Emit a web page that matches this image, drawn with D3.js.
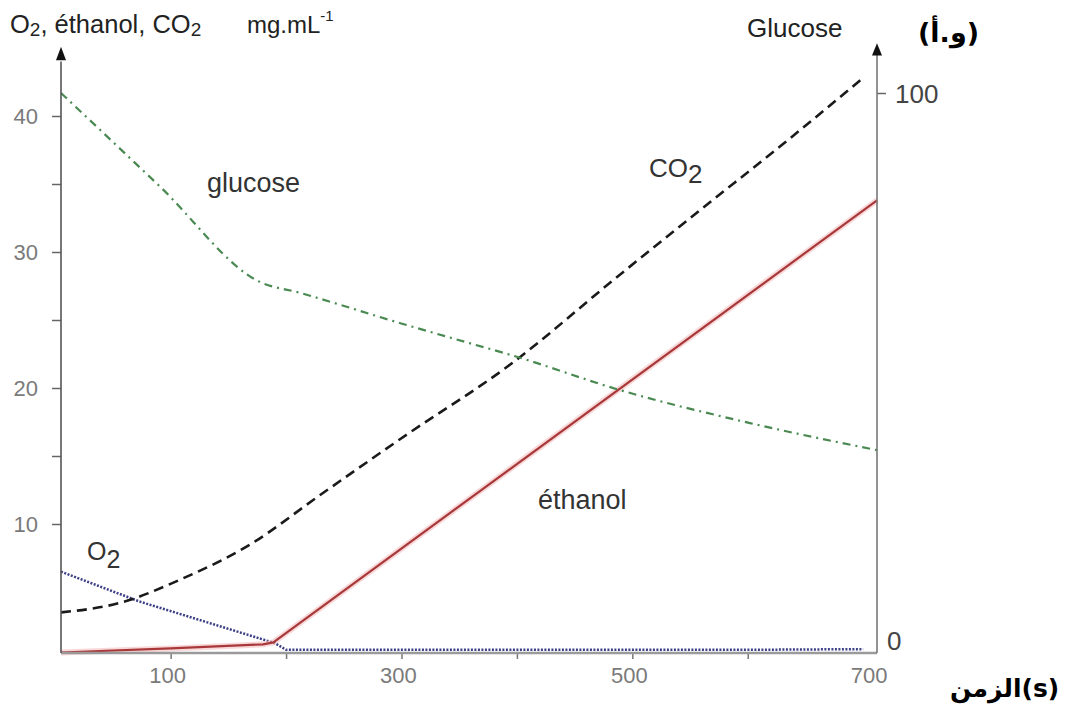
<!DOCTYPE html>
<html>
<head>
<meta charset="utf-8">
<script src="https://cdn.jsdelivr.net/npm/d3@7"></script>
<style>
  html, body { margin: 0; padding: 0; background: #fff; }
  svg { display: block; }
  text { font-family: "Liberation Sans", Arial, sans-serif; }
</style>
</head>
<body>
<svg id="chart" width="1070" height="707"></svg>
<script>
// ---- data (time in s) ----
const glucoseT   = [5, 91, 177, 212, 299, 362, 397, 489, 602, 712];
const glucoseV   = [100, 83, 65.8, 63.8, 58.3, 54.5, 52.4, 46.2, 40.2, 35.3];  // arbitrary units (right axis)
const ethanolT   = [5, 100, 180, 189, 712];
const ethanolV   = [0.55, 0.85, 1.15, 1.3, 33.8];                              // mg/mL (left axis)
const co2T       = [5, 56, 108, 169, 229, 299, 397, 483, 559, 630, 700];
const co2V       = [3.5, 4.2, 5.9, 8.5, 12.1, 16.25, 21.9, 27.9, 33.1, 37.9, 42.8];
const o2T        = [5, 73, 190, 200, 300, 400, 500, 600, 700];
const o2V        = [6.5, 4.3, 1.25, 0.75, 0.75, 0.75, 0.75, 0.75, 0.8];
const xTicks     = [100, 200, 300, 400, 500, 600];
const xLabels    = [100, 300, 500, 700];
const leftTicks  = [10, 15, 20, 25, 30, 35, 40];
const leftLabels = [10, 20, 30, 40];
const rightTicks = [100];
const rightLabels = [0, 100];

const svg = d3.select("#chart");
const x  = d3.scaleLinear().domain([5, 712]).range([61, 877]);
const yL = d3.scaleLinear().domain([0, 45]).range([660, 48]);
const yR = d3.scaleLinear().domain([0, 100]).range([645, 93]);
const baseY = 653;

const zip = (a, b) => a.map((t, i) => [t, b[i]]);
const lineL  = d3.line().x(d => x(d[0])).y(d => yL(d[1]));
const lineLs = d3.line().x(d => x(d[0])).y(d => yL(d[1])).curve(d3.curveMonotoneX);
const lineR  = d3.line().x(d => x(d[0])).y(d => yR(d[1])).curve(d3.curveMonotoneX);

// O2 dotted
svg.append("path").attr("d", lineL(zip(o2T, o2V)))
  .attr("fill", "none").attr("stroke", "#3c3f85").attr("stroke-width", 2.5)
  .attr("stroke-dasharray", "2,1.5");

// ethanol (pink halo + red line)
svg.append("path").attr("d", lineL(zip(ethanolT, ethanolV)))
  .attr("fill", "none").attr("stroke", "#f3b8b8").attr("stroke-width", 6).attr("opacity", 0.55)
  .attr("stroke-linejoin", "round");
svg.append("path").attr("d", lineL(zip(ethanolT, ethanolV)))
  .attr("fill", "none").attr("stroke", "#a8383a").attr("stroke-width", 2.2)
  .attr("stroke-linejoin", "round");

// CO2 dashed
svg.append("path").attr("d", lineLs(zip(co2T, co2V)))
  .attr("fill", "none").attr("stroke", "#1a1a1a").attr("stroke-width", 2.6)
  .attr("stroke-dasharray", "10,6");

// glucose dash-dot
svg.append("path").attr("d", lineR(zip(glucoseT, glucoseV)))
  .attr("fill", "none").attr("stroke", "#4a8a52").attr("stroke-width", 2.2)
  .attr("stroke-dasharray", "8,5,2,5");

// ---- axes ----
const xAxis = d3.axisBottom(x).tickValues(xTicks).tickSize(6).tickFormat("");
const gx = svg.append("g").attr("transform", `translate(0,${baseY})`).call(xAxis);
gx.select(".domain").remove();
gx.selectAll(".tick line").attr("stroke", "#777").attr("stroke-width", 1.5);
svg.append("line").attr("x1", x(5)).attr("x2", x(712)).attr("y1", baseY).attr("y2", baseY)
  .attr("stroke", "#9a9a9a").attr("stroke-width", 2.5);
svg.selectAll(".xlab").data(xLabels).enter().append("text")
  .attr("x", d => x(d) + (d === 700 ? 6 : -3)).attr("y", baseY + 30)
  .attr("text-anchor", "middle").attr("font-size", 22).attr("fill", "#7a7a7a")
  .text(d => d);

const yAxisL = d3.axisLeft(yL).tickValues(leftTicks).tickSize(9).tickFormat("");
const gl = svg.append("g").attr("transform", `translate(${x(5)},0)`).call(yAxisL);
gl.select(".domain").remove();
gl.selectAll(".tick line").attr("stroke", "#666").attr("stroke-width", 1.5);
svg.append("line").attr("x1", x(5)).attr("x2", x(5)).attr("y1", baseY).attr("y2", yL(44))
  .attr("stroke", "#555").attr("stroke-width", 1.6);
svg.append("path")
  .attr("d", `M${x(5)},${yL(45.1)} L${x(5) - 5},${yL(44.1)} L${x(5) + 5},${yL(44.1)} Z`)
  .attr("fill", "#111");
svg.selectAll(".ylab").data(leftLabels).enter().append("text")
  .attr("x", x(5) - 23).attr("y", d => yL(d) + 8)
  .attr("text-anchor", "end").attr("font-size", 22).attr("fill", "#7a7a7a")
  .text(d => d);

const yAxisR = d3.axisRight(yR).tickValues(rightTicks).tickSize(9).tickFormat("");
const gr = svg.append("g").attr("transform", `translate(${x(712)},0)`).call(yAxisR);
gr.select(".domain").remove();
gr.selectAll(".tick line").attr("stroke", "#666").attr("stroke-width", 1.5);
svg.append("line").attr("x1", x(712)).attr("x2", x(712)).attr("y1", baseY).attr("y2", yR(107))
  .attr("stroke", "#777").attr("stroke-width", 1.6);
svg.append("path")
  .attr("d", `M${x(712)},${yR(109)} L${x(712) - 5},${yR(106.8)} L${x(712) + 5},${yR(106.8)} Z`)
  .attr("fill", "#111");
svg.selectAll(".rlab").data(rightLabels).enter().append("text")
  .attr("x", d => x(712) + (d === 0 ? 10 : 18)).attr("y", d => yR(d) + (d === 0 ? 5 : 10))
  .attr("text-anchor", "start").attr("font-size", 26).attr("fill", "#444")
  .text(d => d);

// ---- titles ----
const t1 = svg.append("text").attr("x", 10).attr("y", 33).attr("font-size", 25.5).attr("fill", "#222");
t1.append("tspan").text("O");
t1.append("tspan").attr("font-size", 19).attr("dy", 3).text("2");
t1.append("tspan").attr("dy", -3).text(", éthanol, CO");
t1.append("tspan").attr("font-size", 19).attr("dy", 3).text("2");

const t2 = svg.append("text").attr("x", 247).attr("y", 33).attr("font-size", 24).attr("fill", "#222");
t2.append("tspan").text("mg.mL");
t2.append("tspan").attr("font-size", 15).attr("dy", -12).text("-1");

svg.append("text").attr("x", 747).attr("y", 37).attr("font-size", 26).attr("fill", "#222").text("Glucose");

// Arabic labels placed piece by piece in visual (left-to-right) order
function seqText(parts, x0, y0, size) {
  let cx = x0;
  parts.forEach(p => {
    const t = svg.append("text").attr("x", cx).attr("y", y0)
      .attr("font-size", size).attr("font-weight", "bold").attr("fill", "#000")
      .attr("direction", "ltr").attr("text-anchor", "start")
      .style("font-family", "'DejaVu Sans', sans-serif").text(p);
    cx += t.node().getComputedTextLength();
  });
}
seqText(["(", "أ", ".", "و", ")"], 918, 42, 27);
seqText(["الزمن", "(s)"], 950, 697, 25);

// ---- series labels ----
svg.append("text").attr("x", 207).attr("y", 192).attr("font-size", 27).attr("fill", "#333").text("glucose");
const co = svg.append("text").attr("x", 649).attr("y", 177).attr("font-size", 26).attr("fill", "#333");
co.append("tspan").text("CO");
co.append("tspan").attr("dy", 6).text("2");
svg.append("text").attr("x", 538).attr("y", 509).attr("font-size", 27).attr("fill", "#333").text("éthanol");
const ol = svg.append("text").attr("x", 87).attr("y", 560).attr("font-size", 25).attr("fill", "#333");
ol.append("tspan").text("O");
ol.append("tspan").attr("dy", 8).text("2");
</script>
</body>
</html>
